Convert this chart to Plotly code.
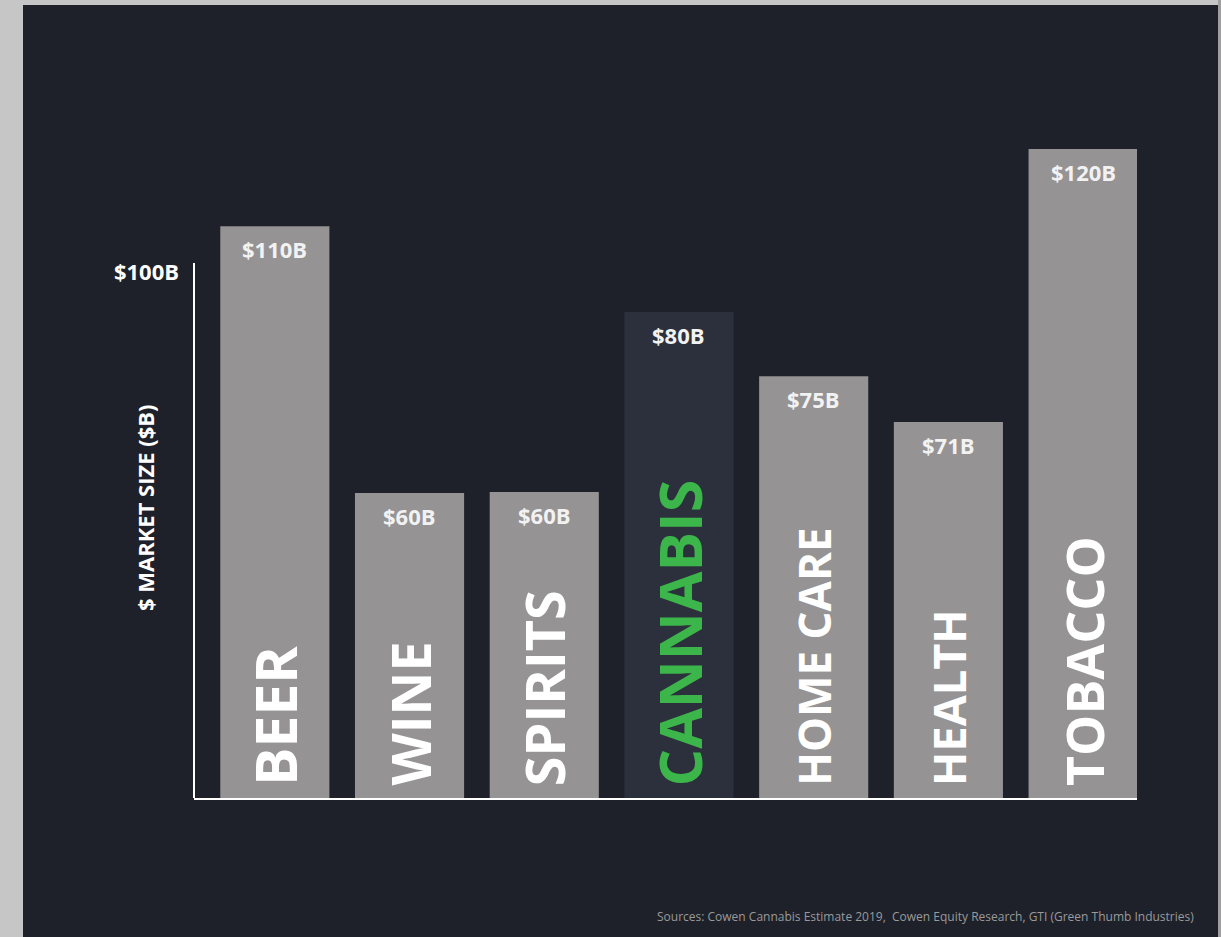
import plotly.graph_objects as go

# ---- data ----
categories = ["BEER", "WINE", "SPIRITS", "CANNABIS", "HOME CARE", "HEALTH", "TOBACCO"]
market_size_b = [110, 60, 60, 80, 75, 71, 120]            # labelled values ($B)
bar_heights = [108.7, 58.0, 58.2, 92.4, 80.2, 71.5, 123.4]  # drawn heights (axis units)
value_labels = ["$%dB" % v for v in market_size_b]
y_tick_vals = [100]
y_tick_text = ["$100B"]
y_axis_top = 101.7
source_text = "Sources: Cowen Cannabis Estimate 2019,  Cowen Equity Research, GTI (Green Thumb Industries)"

# ---- styles ----
PANEL = "#1e212a"
GREY_BAR = "#959394"
CANNABIS_BAR = "#2b303c"
GREEN = "#3cb54a"
highlight = "CANNABIS"
bar_colors = [CANNABIS_BAR if c == highlight else GREY_BAR for c in categories]
label_colors = [GREEN if c == highlight else "white" for c in categories]
label_sizes = [57, 54, 54, 59, 44, 45, 52]

W, H = 1221, 937
L, R, T, B = 194, 84, 130, 139
pw, ph = W - L - R, H - T - B

def px_to_paper_x(px):
    return (px - L) / pw

def px_to_paper_y(py):
    return (H - B - py) / ph

fig = go.Figure()
fig.add_trace(go.Bar(
    x=categories, y=bar_heights, width=0.81,
    marker=dict(color=bar_colors, line=dict(width=0)),
    hoverinfo="skip", showlegend=False,
))

annotations = []
for c, h, v in zip(categories, bar_heights, value_labels):
    annotations.append(dict(
        x=c, y=h, xref="x", yref="y", text=v, showarrow=False,
        yanchor="middle", yshift=-23,
        font=dict(family="Open Sans", size=22, color="#f2f2f2", weight="bold"),
    ))
for c, col, sz in zip(categories, label_colors, label_sizes):
    annotations.append(dict(
        x=c, y=0, xref="x", yref="y", text=c, showarrow=False,
        textangle=-90, yanchor="bottom", yshift=10,
        font=dict(family="Open Sans", size=sz, color=col, weight="bold", style="normal"),
    ))
annotations.append(dict(
    x=px_to_paper_x(145), y=px_to_paper_y(508), xref="paper", yref="paper",
    text="$ MARKET SIZE ($B)", textangle=-90, showarrow=False,
    xanchor="center", yanchor="middle",
    font=dict(family="Open Sans", size=22, color="white", weight="bold"),
))
annotations.append(dict(
    x=px_to_paper_x(1196), y=px_to_paper_y(917), xref="paper", yref="paper",
    text=source_text, showarrow=False, xanchor="right", yanchor="middle",
    font=dict(family="Open Sans", size=12, color="#9a9a9a"),
))

shapes = [
    # dark panel
    dict(type="rect", xref="paper", yref="paper", layer="below",
         x0=px_to_paper_x(23), x1=px_to_paper_x(1218),
         y0=px_to_paper_y(H + 5), y1=px_to_paper_y(5),
         fillcolor=PANEL, line=dict(width=0)),
    # right grey strip
    dict(type="rect", xref="paper", yref="paper", layer="below",
         x0=px_to_paper_x(1218), x1=px_to_paper_x(W + 5),
         y0=px_to_paper_y(H + 5), y1=px_to_paper_y(-5),
         fillcolor="#9f9f9f", line=dict(width=0)),
    # y-axis line
    dict(type="line", xref="paper", yref="y", x0=0, x1=0, y0=0, y1=y_axis_top,
         line=dict(color="white", width=2)),
]

fig.update_layout(
    width=W, height=H,
    margin=dict(l=L, r=R, t=T, b=B, pad=0),
    paper_bgcolor="#c6c6c6", plot_bgcolor="rgba(0,0,0,0)",
    bargap=0.19, annotations=annotations, shapes=shapes,
    xaxis=dict(range=[-0.6, 6.4], showticklabels=False, showgrid=False, zeroline=False,
               showline=True, linecolor="white", linewidth=2, ticks=""),
    yaxis=dict(range=[0, 127], showgrid=False, zeroline=False, showline=False,
               tickvals=y_tick_vals, ticktext=y_tick_text, ticks="",
               ticklabelstandoff=14,
               tickfont=dict(family="Open Sans", size=22, color="white", weight="bold")),
)

fig.write_html("out.html")
